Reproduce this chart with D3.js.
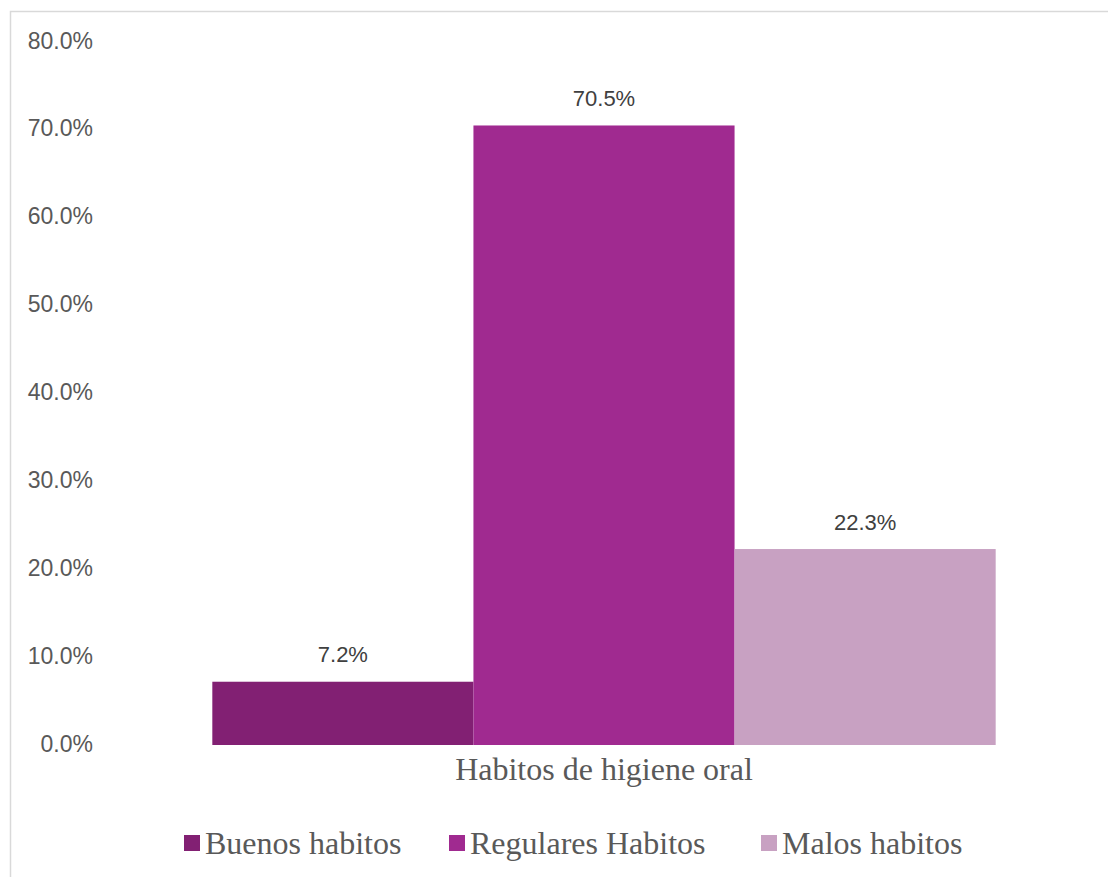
<!DOCTYPE html>
<html>
<head>
<meta charset="utf-8">
<script src="https://cdn.jsdelivr.net/npm/d3@7"></script>
<style>
  html, body { margin: 0; padding: 0; background: #ffffff; }
  svg { display: block; }
</style>
</head>
<body>
<svg id="chart" width="1108" height="877"></svg>
<script>
// Survey result: oral hygiene habits (percent of respondents)
const category = ["Habitos de higiene oral"];
const seriesNames = ["Buenos habitos", "Regulares Habitos", "Malos habitos"];
const seriesValues = [7.2, 70.5, 22.3];
const seriesColors = ["#822073", "#a02a90", "#c8a1c2"];
const yTicks = [0, 10, 20, 30, 40, 50, 60, 70, 80];

const svg = d3.select("#chart");
const W = 1108, H = 877;

// chart frame
svg.append("rect")
  .attr("x", 10.5).attr("y", 11.5)
  .attr("width", W + 10).attr("height", H + 10)
  .attr("fill", "#ffffff")
  .attr("stroke", "#d9d9d9").attr("stroke-width", 1.5);

const plot = { left: 105, right: 1103, top: 42, bottom: 745 };

const y = d3.scaleLinear().domain([0, 80]).range([plot.bottom, plot.top]);

const x0 = d3.scaleBand()
  .domain(category)
  .range([plot.left, plot.right])
  .paddingInner(0)
  .paddingOuter(0.137);

const x1 = d3.scaleBand()
  .domain(seriesNames)
  .range([0, x0.bandwidth()])
  .padding(0);

// y axis (labels only, no line or ticks)
const yAxis = d3.axisLeft(y)
  .tickValues(yTicks)
  .tickFormat(d => d3.format(".1f")(d) + "%")
  .tickSize(0)
  .tickPadding(0);

const gy = svg.append("g")
  .attr("transform", `translate(93,-2)`)
  .call(yAxis);
gy.select(".domain").remove();
gy.selectAll("text")
  .attr("font-family", "'Liberation Sans', Arial, sans-serif")
  .attr("font-size", 23)
  .attr("fill", "#595959")
  .attr("dy", "0.35em");

// bars
const groups = svg.append("g")
  .selectAll("g")
  .data(category)
  .join("g")
  .attr("transform", d => `translate(${x0(d)},0)`);

const rows = seriesNames.map((name, i) => ({ name, value: seriesValues[i], color: seriesColors[i] }));

groups.selectAll("rect")
  .data(rows)
  .join("rect")
  .attr("x", d => x1(d.name))
  .attr("y", d => y(d.value))
  .attr("width", x1.bandwidth())
  .attr("height", d => y(0) - y(d.value))
  .attr("fill", d => d.color);

// value labels
groups.selectAll("text.val")
  .data(rows)
  .join("text")
  .attr("class", "val")
  .attr("x", d => x1(d.name) + x1.bandwidth() / 2)
  .attr("y", d => y(d.value) - 27)
  .attr("dy", "0.35em")
  .attr("text-anchor", "middle")
  .attr("font-family", "'Liberation Sans', Arial, sans-serif")
  .attr("font-size", 22)
  .attr("fill", "#404040")
  .text(d => d3.format(".1f")(d.value) + "%");

// category axis label
const xAxis = d3.axisBottom(x0).tickSize(0).tickPadding(0);
const gx = svg.append("g")
  .attr("transform", `translate(0,${plot.bottom})`)
  .call(xAxis);
gx.select(".domain").remove();
gx.selectAll("text")
  .attr("font-family", "'Liberation Serif', 'Times New Roman', serif")
  .attr("font-size", 32)
  .attr("fill", "#595959")
  .attr("dy", "1.08em");

// legend
const legendX = [184, 449, 761];
const legend = svg.append("g")
  .selectAll("g")
  .data(rows)
  .join("g")
  .attr("transform", (d, i) => `translate(${legendX[i]},835)`);
legend.append("rect")
  .attr("width", 16).attr("height", 16)
  .attr("fill", d => d.color);
legend.append("text")
  .attr("x", 21).attr("y", 8)
  .attr("dy", "0.35em")
  .attr("font-family", "'Liberation Serif', 'Times New Roman', serif")
  .attr("font-size", 32)
  .attr("fill", "#595959")
  .text(d => d.name);
</script>
</body>
</html>
